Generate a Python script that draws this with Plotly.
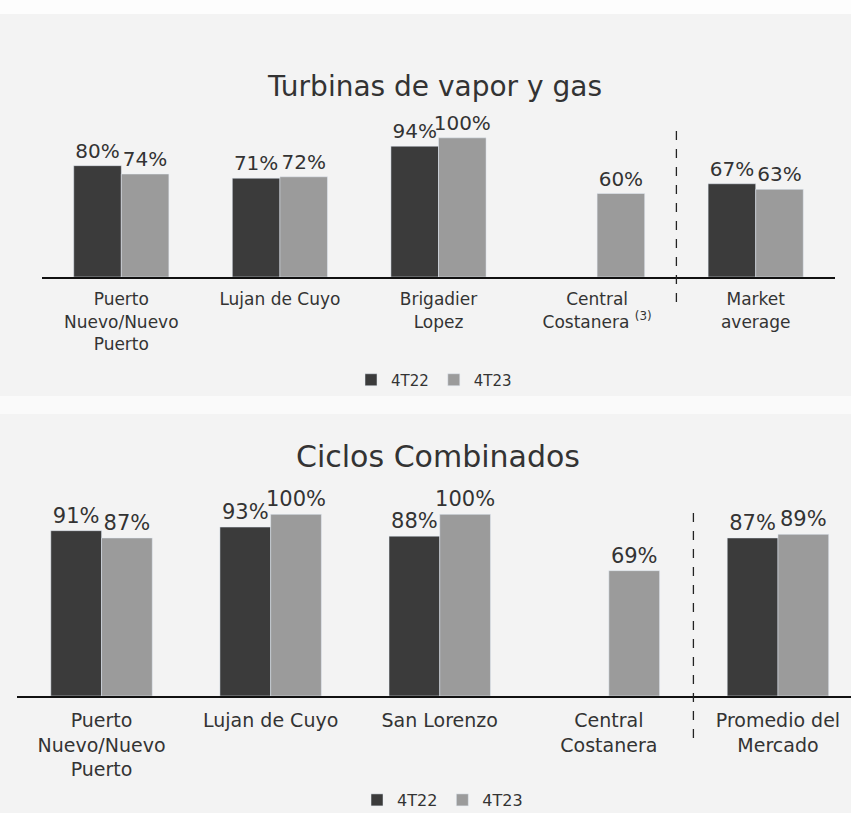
import plotly.graph_objects as go

# Turbinas de vapor y gas
cats_tg = ["Puerto<br>Nuevo/Nuevo<br>Puerto", "Lujan de Cuyo", "Brigadier<br>Lopez",
           "Central<br>Costanera <sup>(3)</sup>", "Market<br>average"]
tg_4t22 = [0.80, 0.71, 0.94, None, 0.67]
tg_4t23 = [0.74, 0.72, 1.00, 0.60, 0.63]

# Ciclos Combinados
cats_cc = ["Puerto<br>Nuevo/Nuevo<br>Puerto", "Lujan de Cuyo", "San Lorenzo",
           "Central<br>Costanera", "Promedio del<br>Mercado"]
cc_4t22 = [0.91, 0.93, 0.88, None, 0.87]
cc_4t23 = [0.87, 1.00, 1.00, 0.69, 0.89]

series_names = ["4T22", "4T23"]
dark = "#3b3b3b"
light = "#9b9b9b"
font = "DejaVu Sans"
W, H = 851, 813


def py(px):
    # pixel from top -> paper fraction
    return (H - px) / H


def add_series(fig, vals, col, name, xa, ya, leg, size):
    # skip missing values so no empty labels are drawn
    xs = [i for i, v in enumerate(vals) if v is not None]
    ys = [v for v in vals if v is not None]
    fig.add_trace(go.Bar(
        x=xs, y=ys, name=name, marker_color=col,
        text=[f"{v:.0%}" for v in ys],
        textposition="outside", constraintext="none", cliponaxis=False,
        textfont=dict(family=font, size=size, color="#333333"),
        xaxis=xa, yaxis=ya, legend=leg,
    ))


fig = go.Figure()
add_series(fig, tg_4t22, dark, series_names[0], "x", "y", "legend", 20)
add_series(fig, tg_4t23, light, series_names[1], "x", "y", "legend", 20)
add_series(fig, cc_4t22, dark, series_names[0], "x2", "y2", "legend2", 21)
add_series(fig, cc_4t23, light, series_names[1], "x2", "y2", "legend2", 21)

axis_common = dict(showgrid=False, zeroline=False, showline=True, linecolor="#111111",
                   linewidth=2, ticks="", tickfont=dict(family=font, size=17, color="#333333"),
                   tickmode="array", fixedrange=True, ticklabelstandoff=6)

fig.update_layout(
    width=W, height=H,
    margin=dict(l=0, r=0, t=0, b=0, autoexpand=False),
    paper_bgcolor="#f3f3f3",
    plot_bgcolor="rgba(0,0,0,0)",
    barmode="group", bargap=0.4, bargroupgap=0,
    font=dict(family=font, color="#333333"),
    xaxis=dict(axis_common, domain=[42 / W, 835 / W], range=[-0.5, 4.5], anchor="y",
               tickvals=list(range(len(cats_tg))), ticktext=cats_tg),
    yaxis=dict(domain=[py(277), py(110)], range=[0, 1.2], visible=False, anchor="x",
               fixedrange=True),
    xaxis2=dict(axis_common, domain=[17 / W, 1.0], range=[-0.5, (851 - 102) / 169], anchor="y2",
                tickvals=list(range(len(cats_cc))), ticktext=cats_cc,
                tickfont=dict(family=font, size=19, color="#333333")),
    yaxis2=dict(domain=[py(696), py(478)], range=[0, 1.2], visible=False, anchor="x2",
                fixedrange=True),
    legend=dict(orientation="h", x=0.51, xanchor="center", y=py(380), yanchor="middle",
                font=dict(family=font, size=15, color="#333333"), bgcolor="rgba(0,0,0,0)",
                itemwidth=30),
    legend2=dict(orientation="h", x=0.52, xanchor="center", y=py(800), yanchor="middle",
                 font=dict(family=font, size=16, color="#333333"), bgcolor="rgba(0,0,0,0)",
                 itemwidth=30),
    annotations=[
        dict(text="Turbinas de vapor y gas", x=0.51, y=py(86), xref="paper", yref="paper",
             yanchor="middle", showarrow=False, font=dict(family=font, size=28, color="#333333")),
        dict(text="Ciclos Combinados", x=0.515, y=py(457), xref="paper", yref="paper",
             yanchor="middle", showarrow=False, font=dict(family=font, size=30, color="#333333")),
    ],
    shapes=[
        dict(type="rect", xref="paper", yref="paper", x0=0, x1=1, y0=py(14), y1=1,
             fillcolor="#fdfdfd", line_width=0, layer="below"),
        dict(type="rect", xref="paper", yref="paper", x0=0, x1=1, y0=py(414), y1=py(396),
             fillcolor="#fafafa", line_width=0, layer="below"),
        dict(type="line", xref="x", yref="paper", x0=3.5, x1=3.5, y0=py(302), y1=py(127),
             line=dict(color="#222222", width=1.3, dash="dash")),
        dict(type="line", xref="x2", yref="paper", x0=3.5, x1=3.5, y0=py(738), y1=py(505),
             line=dict(color="#222222", width=1.3, dash="dash")),
    ],
)

fig.write_html("out.html", config={"displayModeBar": False},
               post_script="document.body.style.margin='0';document.body.style.overflow='hidden';")
